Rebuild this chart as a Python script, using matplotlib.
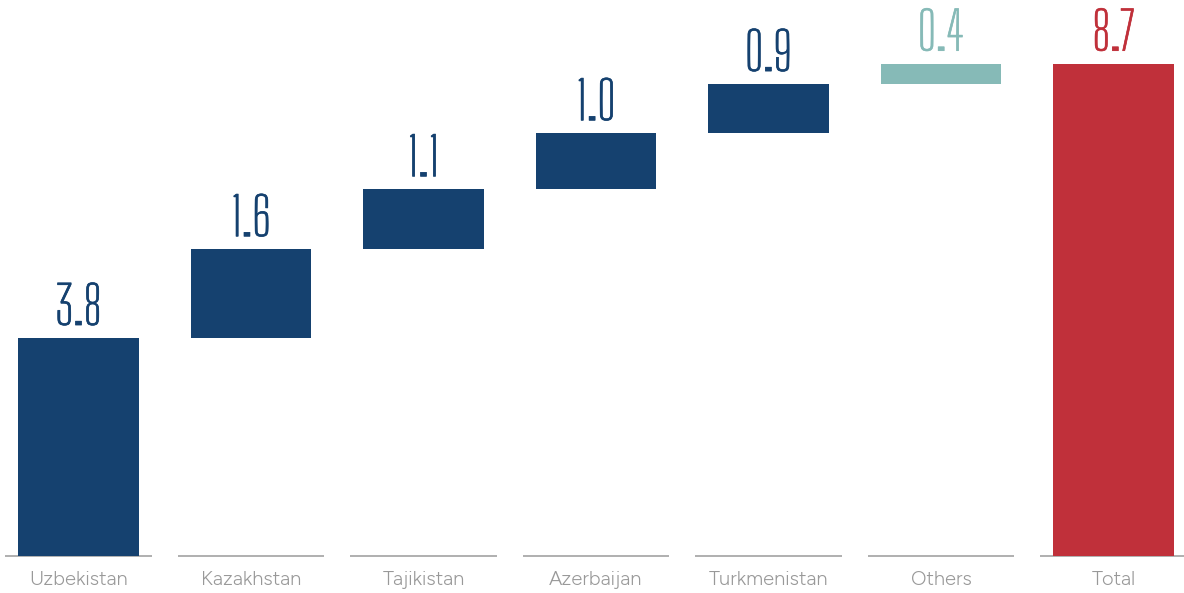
import matplotlib
matplotlib.use("Agg")
import matplotlib.pyplot as plt
import matplotlib.patheffects as pe
import numpy as np

categories = ["Uzbekistan", "Kazakhstan", "Tajikistan", "Azerbaijan", "Turkmenistan", "Others", "Total"]
steps = [3.85, 1.57, 1.06, 0.99, 0.87, 0.36]
total = 8.7
value_labels = ["3.8", "1.6", "1.1", "1.0", "0.9", "0.4", "8.7"]

NAVY = "#15416F"
TEAL = "#86BAB7"
RED = "#C0303A"
LINE_GRAY = "#A9A9A9"
TEXT_GRAY = "#999999"

fig = plt.figure(figsize=(11.84, 5.93), dpi=100)
ax = fig.add_axes([0, 0, 1, 1])
ax.set_xlim(-0.455, 6.409)
ax.set_ylim(-0.654, 9.83)
ax.axis("off")

bottoms = np.concatenate([[0], np.cumsum(steps)[:-1]]).tolist() + [0]
heights = steps + [total]
colors = [NAVY] * 5 + [TEAL, RED]
x = np.arange(len(categories))

ax.bar(x, heights, bottom=bottoms, width=0.70, color=colors, zorder=3, linewidth=0)

for i in x:
    ax.plot([i - 0.425, i + 0.425], [0, 0], color=LINE_GRAY, lw=1.3, zorder=2, solid_capstyle="butt")
    top = bottoms[i] + heights[i]
    ax.annotate(value_labels[i], (i, top), xytext=(0, 9.5), textcoords="offset points",
                ha="center", va="baseline", family="Big Shoulders Text", weight="normal",
                fontsize=38, color=colors[i],
                path_effects=[pe.withStroke(linewidth=0.45, foreground=colors[i])])
    ax.text(i, -0.425, categories[i], ha="center", va="center", family="Figtree",
            fontsize=14.5, color=TEXT_GRAY)

fig.savefig("out.png", dpi=100)
